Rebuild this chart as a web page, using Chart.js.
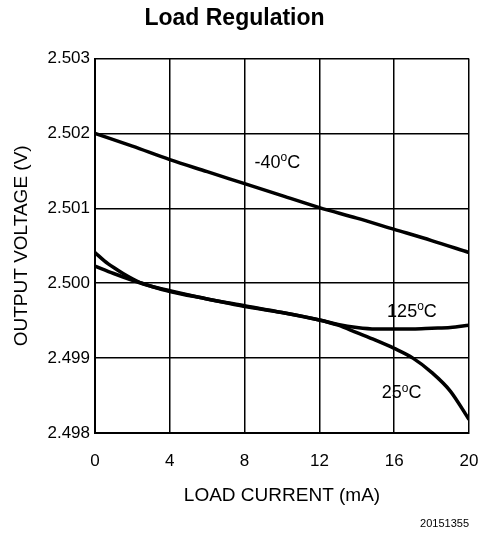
<!DOCTYPE html>
<html>
<head>
<meta charset="utf-8">
<title>Load Regulation</title>
<script src="https://cdn.jsdelivr.net/npm/chart.js@4.4.1/dist/chart.umd.min.js"></script>
<style>
    html, body { margin: 0; padding: 0; background: #fff; }
    #wrap { width: 482px; height: 535px; }
</style>
</head>
<body>
<div id="wrap"><canvas id="grafico" width="482" height="535"></canvas></div>
<script>
const xTicks = [0, 4, 8, 12, 16, 20];
const yTicks = [2.498, 2.499, 2.500, 2.501, 2.502, 2.503];

const xMenos40 = [0, 2, 4, 6, 8, 10, 12, 14, 16, 18, 20];
const yMenos40 = [2.50200, 2.50183, 2.50165, 2.50149, 2.50133, 2.50117, 2.50101, 2.50087, 2.50072, 2.50057, 2.50041];

const x25 = [0, 0.5, 1, 1.5, 2, 2.5, 3, 4, 6, 8, 10, 12, 13, 14, 15, 16, 17, 18, 19, 20];
const y25 = [2.50041, 2.50030, 2.50021, 2.50013, 2.50006, 2.50000, 2.49996, 2.49989, 2.49979, 2.49969, 2.49961, 2.49951, 2.49944, 2.49934, 2.49924, 2.49913, 2.49900, 2.49881, 2.49856, 2.49818];

const x125 = [0, 1, 2, 3, 4, 6, 8, 10, 12, 13, 14, 15, 16, 17, 18, 19, 20];
const y125 = [2.50023, 2.50013, 2.50004, 2.49996, 2.49990, 2.49979, 2.49970, 2.49961, 2.49951, 2.49945, 2.49941, 2.49939, 2.49939, 2.49939, 2.49940, 2.49941, 2.49944];

// etiquetas de cada curva: [numero, x, y]
const etiquetas = [
    ["-40", 9.75, 2.50161],
    ["125", 16.95, 2.49962],
    ["25", 16.4, 2.49853]
];

const fuente = "'Liberation Sans', Arial, Helvetica, sans-serif";

function puntos(xs, ys) {
    return xs.map((x, i) => ({ x: x, y: ys[i] }));
}

const serie = (nombre, datos) => ({
    label: nombre,
    data: datos,
    borderColor: "#000",
    borderWidth: 3.5,
    pointRadius: 0,
    cubicInterpolationMode: "monotone",
    fill: false
});

// texto de curvas con la "o" elevada y nota al pie
const textoExtra = {
    id: "textoExtra",
    afterDatasetsDraw(chart) {
        const ctx = chart.ctx;
        const sx = chart.scales.x;
        const sy = chart.scales.y;
        ctx.save();
        ctx.fillStyle = "#000";
        ctx.textBaseline = "middle";
        etiquetas.forEach(([num, x, y]) => {
            const big = "18px " + fuente;
            const small = "12px " + fuente;
            ctx.font = big;
            const wNum = ctx.measureText(num).width;
            const wC = ctx.measureText("C").width;
            ctx.font = small;
            const wO = ctx.measureText("o").width;
            let px = sx.getPixelForValue(x) - (wNum + wO + wC) / 2;
            const py = sy.getPixelForValue(y);
            ctx.textAlign = "left";
            ctx.font = big;
            ctx.fillText(num, px, py);
            px += wNum;
            ctx.font = small;
            ctx.fillText("o", px, py - 5);
            px += wO;
            ctx.font = big;
            ctx.fillText("C", px, py);
        });
        ctx.font = "11px " + fuente;
        ctx.textAlign = "right";
        ctx.textBaseline = "middle";
        ctx.fillText("20151355", chart.chartArea.right, 524);
        ctx.restore();
    }
};

document.addEventListener("DOMContentLoaded", () => {
    const ctx = document.getElementById("grafico").getContext("2d");
    new Chart(ctx, {
        type: "line",
        data: {
            datasets: [
                serie("-40°C", puntos(xMenos40, yMenos40)),
                serie("25°C", puntos(x25, y25)),
                serie("125°C", puntos(x125, y125))
            ]
        },
        options: {
            responsive: false,
            animation: false,
            layout: { padding: { left: 0, right: 13, top: 0, bottom: 0 } },
            plugins: {
                legend: { display: false },
                tooltip: { enabled: false },
                title: {
                    display: true,
                    text: "Load Regulation",
                    color: "#000",
                    font: { family: fuente, size: 23, weight: "bold" },
                    padding: { top: 5, bottom: 26 }
                }
            },
            scales: {
                x: {
                    type: "linear",
                    min: 0,
                    max: 20,
                    afterFit: (s) => {
                        s.height = 102;
                        s.paddingLeft = 0;
                        s.paddingRight = 0;
                    },
                    afterBuildTicks: (s) => { s.ticks = xTicks.map(v => ({ value: v })); },
                    grid: { color: "#000", lineWidth: 1.5, drawTicks: false },
                    border: { color: "#000", width: 2 },
                    ticks: {
                        color: "#000",
                        padding: 18,
                        maxRotation: 0,
                        font: { family: fuente, size: 17 }
                    },
                    title: {
                        display: true,
                        text: "LOAD CURRENT (mA)",
                        color: "#000",
                        font: { family: fuente, size: 19 },
                        padding: { top: 0, bottom: 28 }
                    }
                },
                y: {
                    type: "linear",
                    min: 2.498,
                    max: 2.503,
                    afterFit: (s) => {
                        s.width = 95;
                        s.paddingTop = 0;
                        s.paddingBottom = 0;
                    },
                    afterBuildTicks: (s) => { s.ticks = yTicks.map(v => ({ value: v })); },
                    grid: { color: "#000", lineWidth: 1.5, drawTicks: false },
                    border: { color: "#000", width: 2 },
                    ticks: {
                        color: "#000",
                        padding: 5,
                        font: { family: fuente, size: 17 },
                        callback: (v) => Number(v).toFixed(3)
                    },
                    title: {
                        display: true,
                        text: "OUTPUT VOLTAGE (V)",
                        color: "#000",
                        font: { family: fuente, size: 19 },
                        padding: { top: 10, bottom: 0 }
                    }
                }
            }
        },
        plugins: [textoExtra]
    });
});
</script>
</body>
</html>
